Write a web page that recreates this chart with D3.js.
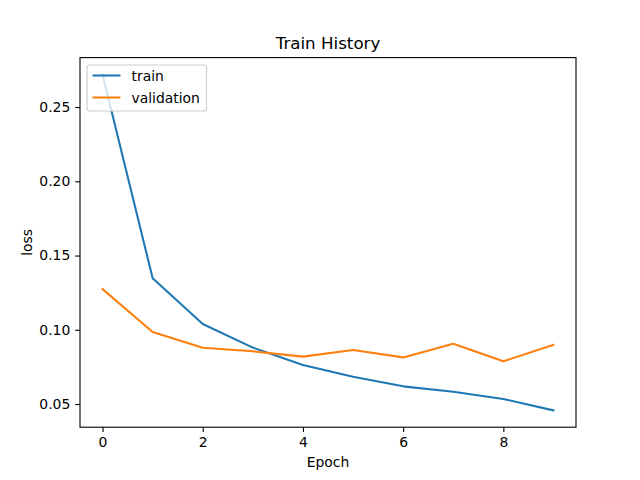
<!DOCTYPE html>
<html><head><meta charset="utf-8">
<script src="https://cdn.jsdelivr.net/npm/d3@7"></script>
<style>body{margin:0;background:#fff;} text{font-family:"DejaVu Sans",sans-serif;}</style>
</head><body>
<script>
const epochs = [0,1,2,3,4,5,6,7,8,9];
const trainLoss = [0.2720,0.1347,0.1039,0.0880,0.0763,0.0684,0.0619,0.0583,0.0534,0.0457];
const valLoss = [0.1274,0.0985,0.0879,0.0855,0.0819,0.0864,0.0814,0.0906,0.0788,0.0899];
const xTicks = [0,2,4,6,8];
const yTicks = [0.05,0.10,0.15,0.20,0.25];
const seriesNames = ["train","validation"];
const colors = ["#1f77b4","#ff7f0e"];

const W=640,H=480;
const L=80,R=576,T=57.6,B=427.2;
const svg=d3.select("body").append("svg").attr("width",W).attr("height",H);
svg.append("rect").attr("width",W).attr("height",H).attr("fill","#fff");

const allY=trainLoss.concat(valLoss);
const ymin=d3.min(allY), ymax=d3.max(allY), ypad=(ymax-ymin)*0.05;
const xpad=(d3.max(epochs)-d3.min(epochs))*0.05;
const x=d3.scaleLinear().domain([d3.min(epochs)-xpad,d3.max(epochs)+xpad]).range([L,R]);
const y=d3.scaleLinear().domain([ymin-ypad,ymax+ypad]).range([B,T]);

const fs=13.9;
const xAxis=svg.append("g").attr("transform",`translate(0,${B})`)
  .call(d3.axisBottom(x).tickValues(xTicks).tickFormat(d3.format("d")).tickSize(4.86).tickPadding(4.86));
const yAxis=svg.append("g").attr("transform",`translate(${L},0)`)
  .call(d3.axisLeft(y).tickValues(yTicks).tickFormat(d3.format(".2f")).tickSize(4.86).tickPadding(4.86));
[xAxis,yAxis].forEach(a=>{
  a.select(".domain").remove();
  a.selectAll("line").attr("stroke","#000").attr("stroke-width",1.1);
  a.selectAll("text").attr("font-size",fs).attr("fill","#000").style("font-family","DejaVu Sans");
});

const clip=svg.append("clipPath").attr("id","c").append("rect").attr("x",L).attr("y",T).attr("width",R-L).attr("height",B-T);
const line=d3.line().x((d,i)=>x(epochs[i])).y(d=>y(d));
const g=svg.append("g").attr("clip-path","url(#c)");
[trainLoss,valLoss].forEach((s,k)=>{
  g.append("path").datum(s).attr("d",line).attr("fill","none").attr("stroke",colors[k])
   .attr("stroke-width",2.08).attr("stroke-linejoin","round").attr("stroke-linecap","square");
});

svg.append("rect").attr("x",L).attr("y",T).attr("width",R-L).attr("height",B-T)
  .attr("fill","none").attr("stroke","#000").attr("stroke-width",1.1);

svg.append("text").attr("x",(L+R)/2).attr("y",49).attr("text-anchor","middle").attr("font-size",16.7).text("Train History");
svg.append("text").attr("x",(L+R)/2).attr("y",467).attr("text-anchor","middle").attr("font-size",fs).text("Epoch");
svg.append("text").attr("transform",`translate(32,${(T+B)/2}) rotate(-90)`).attr("text-anchor","middle").attr("font-size",fs).text("loss");

// legend
const lg=svg.append("g");
lg.append("rect").attr("x",87).attr("y",65).attr("width",119.5).attr("height",46).attr("rx",2.8)
  .attr("fill","#fff").attr("fill-opacity",0.8).attr("stroke","#cccccc").attr("stroke-width",1.1);
seriesNames.forEach((n,k)=>{
  const yy=75.5+k*22;
  lg.append("line").attr("x1",92.5).attr("x2",120.5).attr("y1",yy).attr("y2",yy).attr("stroke",colors[k]).attr("stroke-width",2.08);
  lg.append("text").attr("x",131.5).attr("y",yy+5).attr("font-size",fs).text(n);
});
</script>
</body></html>
